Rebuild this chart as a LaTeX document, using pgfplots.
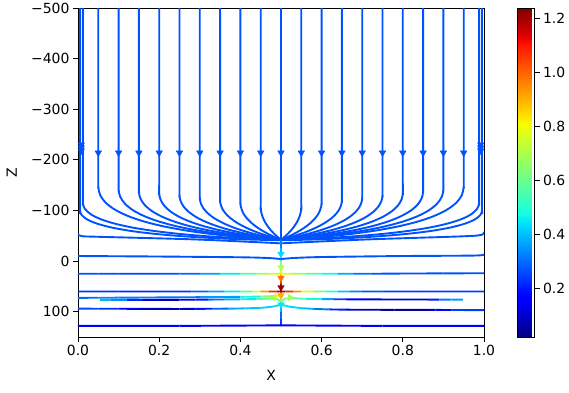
\documentclass[border=0pt]{standalone}
\usepackage{fontspec}
\setmainfont{DejaVu Sans}
\usepackage{pgfplots}
\pgfplotsset{compat=1.18}
\definecolor{sl}{rgb}{0,0.32,1}
\pgfplotsset{colormap={mpljet}{rgb(0pt)=(0,0,0.5) rgb(110pt)=(0,0,1) rgb(125pt)=(0,0,1) rgb(340pt)=(0,0.86,1) rgb(350pt)=(0,0.9,0.968) rgb(375pt)=(0.081,1,0.887) rgb(640pt)=(0.935,1,0.032) rgb(650pt)=(0.968,1,0) rgb(660pt)=(1,0.926,0) rgb(890pt)=(1,0.074,0) rgb(910pt)=(0.909,0,0) rgb(1000pt)=(0.5,0,0)}}
\begin{document}
\begin{tikzpicture}
\path[use as bounding box] (-78bp,-56bp) rectangle (491bp,337bp);
\begin{axis}[
  at={(0,0)}, anchor=south west,
  scale only axis, width=406bp, height=329bp,
  xmin=0, xmax=1, ymin=-500, ymax=150, y dir=reverse,
  xtick={0,0.2,0.4,0.6,0.8,1}, xticklabels={0.0,0.2,0.4,0.6,0.8,1.0},
  ytick={-500,-400,-300,-200,-100,0,100}, yticklabels={−500,−400,−300,−200,−100,0,100},
  tick align=outside, xtick pos=bottom, ytick pos=left, major tick length=5bp,
  tick style={black, line width=0.8pt},
  axis line style={line width=0.8pt},
  tick label style={font=\fontsize{14}{16}\selectfont},
  xlabel={X}, ylabel={Z},
  every axis x label/.style={at={(axis description cs:0.476,-0.1155)},anchor=center,font=\fontsize{14}{16}\selectfont},
  every axis y label/.style={at={(axis description cs:-0.163,0.5)},anchor=center,rotate=90,font=\fontsize{14}{16}\selectfont},
  colormap name=mpljet,
  point meta min=0.022, point meta max=1.237,
  colorbar,
  colorbar style={
    at={(parent axis.north east)}, anchor=north west, xshift=25bp,
    scale only axis, width=17bp, height=329bp,
    ytick={0.2,0.4,0.6,0.8,1.0,1.2}, yticklabels={0.2,0.4,0.6,0.8,1.0,1.2},
    tick align=outside, ytick pos=right, yticklabel pos=right, major tick length=5bp,
    tick style={black, line width=0.8pt},
    axis line style={line width=0.8pt},
    tick label style={font=\fontsize{14}{16}\selectfont},
  },
  sl/.style={color=sl, line width=1.9pt, smooth},
  cl/.style={mesh, line width=1.9pt, point meta=explicit},
]
% ---------- upper streamlines, left half ----------
\addplot[sl] coordinates {(0.05,-500)(0.05,-172)(0.05,-147)(0.0545,-130.65)(0.068,-115.6)(0.0905,-101.85)(0.122,-89.4)(0.1625,-78.25)(0.212,-68.4)(0.2705,-59.85)(0.338,-52.6)(0.4145,-46.65)(0.5,-42)};
\addplot[sl] coordinates {(0.1,-500)(0.1,-167)(0.1,-142)(0.104,-126.96)(0.116,-113.04)(0.136,-100.24)(0.164,-88.56)(0.2,-78)(0.244,-68.56)(0.296,-60.24)(0.356,-53.04)(0.424,-46.96)(0.5,-42)};
\addplot[sl] coordinates {(0.15,-500)(0.15,-163)(0.15,-138)(0.1535,-124.08)(0.164,-111.12)(0.1815,-99.12)(0.206,-88.08)(0.2375,-78)(0.276,-68.88)(0.3215,-60.72)(0.374,-53.52)(0.4335,-47.28)(0.5,-42)};
\addplot[sl] coordinates {(0.2,-500)(0.2,-160)(0.2,-135)(0.203,-122.01)(0.212,-109.84)(0.227,-98.49)(0.248,-87.96)(0.275,-78.25)(0.308,-69.36)(0.347,-61.29)(0.392,-54.04)(0.443,-47.61)(0.5,-42)};
\addplot[sl] coordinates {(0.25,-500)(0.25,-156)(0.25,-131)(0.2525,-119.13)(0.26,-107.92)(0.2725,-97.37)(0.29,-87.48)(0.3125,-78.25)(0.34,-69.68)(0.3725,-61.77)(0.41,-54.52)(0.4525,-47.93)(0.5,-42)};
\addplot[sl] coordinates {(0.3,-500)(0.3,-151)(0.3,-126)(0.302,-115.44)(0.308,-105.36)(0.318,-95.76)(0.332,-86.64)(0.35,-78)(0.372,-69.84)(0.398,-62.16)(0.428,-54.96)(0.462,-48.24)(0.5,-42)};
\addplot[sl] coordinates {(0.35,-500)(0.35,-146)(0.35,-121)(0.3515,-111.75)(0.356,-102.8)(0.3635,-94.15)(0.374,-85.8)(0.3875,-77.75)(0.404,-70)(0.4235,-62.55)(0.446,-55.4)(0.4715,-48.55)(0.5,-42)};
\addplot[sl] coordinates {(0.4,-500)(0.4,-141)(0.4,-116)(0.401,-107.88)(0.404,-99.92)(0.409,-92.12)(0.416,-84.48)(0.425,-77)(0.436,-69.68)(0.449,-62.52)(0.464,-55.52)(0.481,-48.68)(0.5,-42)};
\addplot[sl] coordinates {(0.45,-500)(0.45,-133)(0.45,-108)(0.4505,-101.22)(0.452,-94.48)(0.4545,-87.78)(0.458,-81.12)(0.4625,-74.5)(0.468,-67.92)(0.4745,-61.38)(0.482,-54.88)(0.4905,-48.42)(0.5,-42)};
\addplot[sl] coordinates {(0.012,-500)(0.012,-140)(0.012,-115)(0.0169,-103.3)(0.0315,-92.5)(0.0559,-82.8)(0.0901,-74.1)(0.134,-66.25)(0.1877,-59.5)(0.2511,-53.6)(0.3243,-48.7)(0.4073,-44.9)(0.5,-42)};
\addplot[sl] coordinates {(0.005,-500)(0.005,-125)(0.005,-100)(0.0099,-90.2)(0.0248,-81.3)(0.0496,-73.3)(0.0842,-66.1)(0.1288,-59.75)(0.1832,-54.3)(0.2476,-49.7)(0.3218,-45.9)(0.406,-43)(0.5,-41)};
\addplot[sl] coordinates {(0,-52)(0.012,-49)(0.05,-48)(0.28,-43)(0.45,-37)(0.5,-35)};
% ---------- upper streamlines, right half ----------
\addplot[sl] coordinates {(0.95,-500)(0.95,-172)(0.95,-147)(0.9455,-130.65)(0.932,-115.6)(0.9095,-101.85)(0.878,-89.4)(0.8375,-78.25)(0.788,-68.4)(0.7295,-59.85)(0.662,-52.6)(0.5855,-46.65)(0.5,-42)};
\addplot[sl] coordinates {(0.9,-500)(0.9,-167)(0.9,-142)(0.896,-126.96)(0.884,-113.04)(0.864,-100.24)(0.836,-88.56)(0.8,-78)(0.756,-68.56)(0.704,-60.24)(0.644,-53.04)(0.576,-46.96)(0.5,-42)};
\addplot[sl] coordinates {(0.85,-500)(0.85,-163)(0.85,-138)(0.8465,-124.08)(0.836,-111.12)(0.8185,-99.12)(0.794,-88.08)(0.7625,-78)(0.724,-68.88)(0.6785,-60.72)(0.626,-53.52)(0.5665,-47.28)(0.5,-42)};
\addplot[sl] coordinates {(0.8,-500)(0.8,-160)(0.8,-135)(0.797,-122.01)(0.788,-109.84)(0.773,-98.49)(0.752,-87.96)(0.725,-78.25)(0.692,-69.36)(0.653,-61.29)(0.608,-54.04)(0.557,-47.61)(0.5,-42)};
\addplot[sl] coordinates {(0.75,-500)(0.75,-156)(0.75,-131)(0.7475,-119.13)(0.74,-107.92)(0.7275,-97.37)(0.71,-87.48)(0.6875,-78.25)(0.66,-69.68)(0.6275,-61.77)(0.59,-54.52)(0.5475,-47.93)(0.5,-42)};
\addplot[sl] coordinates {(0.7,-500)(0.7,-151)(0.7,-126)(0.698,-115.44)(0.692,-105.36)(0.682,-95.76)(0.668,-86.64)(0.65,-78)(0.628,-69.84)(0.602,-62.16)(0.572,-54.96)(0.538,-48.24)(0.5,-42)};
\addplot[sl] coordinates {(0.65,-500)(0.65,-146)(0.65,-121)(0.6485,-111.75)(0.644,-102.8)(0.6365,-94.15)(0.626,-85.8)(0.6125,-77.75)(0.596,-70)(0.5765,-62.55)(0.554,-55.4)(0.5285,-48.55)(0.5,-42)};
\addplot[sl] coordinates {(0.6,-500)(0.6,-141)(0.6,-116)(0.599,-107.88)(0.596,-99.92)(0.591,-92.12)(0.584,-84.48)(0.575,-77)(0.564,-69.68)(0.551,-62.52)(0.536,-55.52)(0.519,-48.68)(0.5,-42)};
\addplot[sl] coordinates {(0.55,-500)(0.55,-133)(0.55,-108)(0.5495,-101.22)(0.548,-94.48)(0.5455,-87.78)(0.542,-81.12)(0.5375,-74.5)(0.532,-67.92)(0.5255,-61.38)(0.518,-54.88)(0.5095,-48.42)(0.5,-42)};
\addplot[sl] coordinates {(0.988,-500)(0.988,-140)(0.988,-115)(0.9831,-103.3)(0.9685,-92.5)(0.9441,-82.8)(0.9099,-74.1)(0.866,-66.25)(0.8123,-59.5)(0.7489,-53.6)(0.6757,-48.7)(0.5927,-44.9)(0.5,-42)};
\addplot[sl] coordinates {(0.995,-500)(0.995,-125)(0.995,-100)(0.9901,-90.2)(0.9752,-81.3)(0.9504,-73.3)(0.9158,-66.1)(0.8712,-59.75)(0.8168,-54.3)(0.7524,-49.7)(0.6782,-45.9)(0.594,-43)(0.5,-41)};
\addplot[sl] coordinates {(1,-58)(0.995,-52)(0.95,-49)(0.72,-43)(0.55,-37)(0.5,-35)};
% ---------- centre line ----------
\addplot[color=sl, line width=1.9pt] coordinates {(0.5,-500)(0.5,-42)};
\addplot[cl] table[meta index=2] {
0.5 -42 0.30
0.5 -25 0.36
0.5 -14 0.42
0.5 0 0.55
0.5 12 0.72
0.5 25 0.85
0.5 33 0.98
0.5 45 1.15
0.5 52 1.22
0.5 60 1.10
0.5 68 0.92
0.5 78 0.65
0.5 86 0.45
0.5 100 0.33
0.5 115 0.27
0.5 128 0.22
};
% ---------- H1 ----------
\addplot[sl] coordinates {(0,-10)(0.2,-9)(0.4,-7.5)(0.47,-6)(0.5,-4)};
\addplot[sl] coordinates {(0.5,-4)(0.53,-6)(0.6,-8)(0.8,-10)(0.98,-11)(1,-14)};
% ---------- H2 ----------
\addplot[cl] table[meta index=2] {
0 25 0.27
0.05 25.1 0.27
0.1 25 0.26
0.15 25.1 0.25
0.2 25 0.26
0.25 25.1 0.28
0.3 25 0.32
0.35 25.1 0.40
0.4 25 0.50
0.44 25.1 0.62
0.47 25 0.74
0.5 25.1 0.80
0.53 25 0.74
0.56 25.1 0.62
0.6 25 0.52
0.64 25.1 0.42
0.68 25 0.33
0.72 25.1 0.28
0.8 24.6 0.27
0.9 24.3 0.27
1 24 0.27
};
% ---------- H3 ----------
\addplot[cl] table[meta index=2] {
0 60 0.25
0.1 60.1 0.22
0.2 60 0.22
0.28 60.1 0.25
0.32 60 0.33
0.36 60.1 0.40
0.40 60 0.50
0.43 60.1 0.68
0.45 60 0.85
0.47 60.1 1.02
0.49 60 1.15
0.5 60.1 1.20
0.51 60 1.15
0.53 60.1 1.02
0.55 60 0.86
0.58 60.1 0.70
0.61 60 0.55
0.64 60.1 0.44
0.67 60 0.36
0.70 60.1 0.30
0.75 60 0.25
0.85 60.1 0.24
1 60 0.25
};
% ---------- H3b ----------
\addplot[cl] table[meta index=2] {
0 72.6 0.28
0.05 72.5 0.32
0.1 72.3 0.34
0.2 71.8 0.30
0.3 71.3 0.32
0.4 70.7 0.40
0.45 70.1 0.55
0.48 69.2 0.75
0.5 68 0.90
};
% ---------- H4 ----------
\addplot[cl] table[meta index=2] {
0.054 76.6 0.40
0.08 76.5 0.38
0.12 76.6 0.30
0.16 76.5 0.14
0.2 76.6 0.08
0.25 76.5 0.09
0.29 76.3 0.15
0.32 76.1 0.24
0.36 75.8 0.36
0.40 75.5 0.42
0.44 75 0.50
0.47 74 0.62
0.49 74.5 0.65
0.5 80 0.60
};
\addplot[cl] table[meta index=2] {
0.5 80 0.60
0.51 74 0.65
0.53 73.5 0.62
0.56 74.5 0.52
0.6 75 0.42
0.63 75.3 0.32
0.66 75.5 0.18
0.7 75.7 0.12
0.8 75.9 0.10
0.86 76 0.12
0.89 76.1 0.28
0.92 76 0.36
0.948 76.1 0.35
};
% ---------- H5 ----------
\addplot[cl] table[meta index=2] {
0 94 0.27
0.05 94.1 0.25
0.1 94.2 0.22
0.15 94.4 0.12
0.2 94.5 0.08
0.25 94.6 0.08
0.29 94.4 0.14
0.33 94.2 0.25
0.37 94 0.34
0.41 93.5 0.40
0.45 92.5 0.42
0.48 90 0.43
0.5 86 0.45
};
\addplot[cl] table[meta index=2] {
0.5 86 0.45
0.52 90 0.44
0.55 93 0.42
0.58 94.5 0.37
0.62 95.5 0.27
0.66 96 0.15
0.7 96.2 0.07
0.78 96.3 0.04
0.86 96.4 0.06
0.88 96.5 0.14
0.92 96.6 0.22
1 97 0.27
};
% ---------- H6 ----------
\addplot[cl] table[meta index=2] {
0 128 0.17
0.25 128.1 0.17
0.5 127 0.17
0.75 128.1 0.17
1 128 0.17
};
% ---------- arrows ----------
\addplot[only marks, mark=triangle*, mark size=3.8pt, color=sl, mark options={rotate=180}] coordinates {
(0.05,-214)(0.10,-214)(0.15,-214)(0.20,-214)(0.25,-214)(0.30,-214)(0.35,-214)(0.40,-214)(0.45,-214)(0.50,-214)
(0.55,-214)(0.60,-214)(0.65,-214)(0.70,-214)(0.75,-214)(0.80,-214)(0.85,-214)(0.90,-214)(0.95,-214)
(0.008,-230)(0.008,-224)(0.008,-218)(0.992,-230)(0.992,-224)(0.992,-218)};
\addplot[scatter, only marks, mark=triangle*, mark size=3.8pt, point meta=explicit,
  scatter/use mapped color={draw=mapped color, fill=mapped color}, mark options={rotate=180}] table[meta index=2] {
0.5 -14 0.435
0.5 12.5 0.72
0.5 33.5 0.98
0.5 52 1.22
0.5 68 0.90
0.5 86 0.45
};
\addplot[scatter, only marks, mark=triangle*, mark size=3.8pt, point meta=explicit,
  scatter/use mapped color={draw=mapped color, fill=mapped color}, mark options={rotate=90}] table[meta index=2] {
0.481 72 0.70
};
\addplot[scatter, only marks, mark=triangle*, mark size=3.8pt, point meta=explicit,
  scatter/use mapped color={draw=mapped color, fill=mapped color}, mark options={rotate=-90}] table[meta index=2] {
0.522 72 0.68
};
\end{axis}
\end{tikzpicture}
\end{document}
